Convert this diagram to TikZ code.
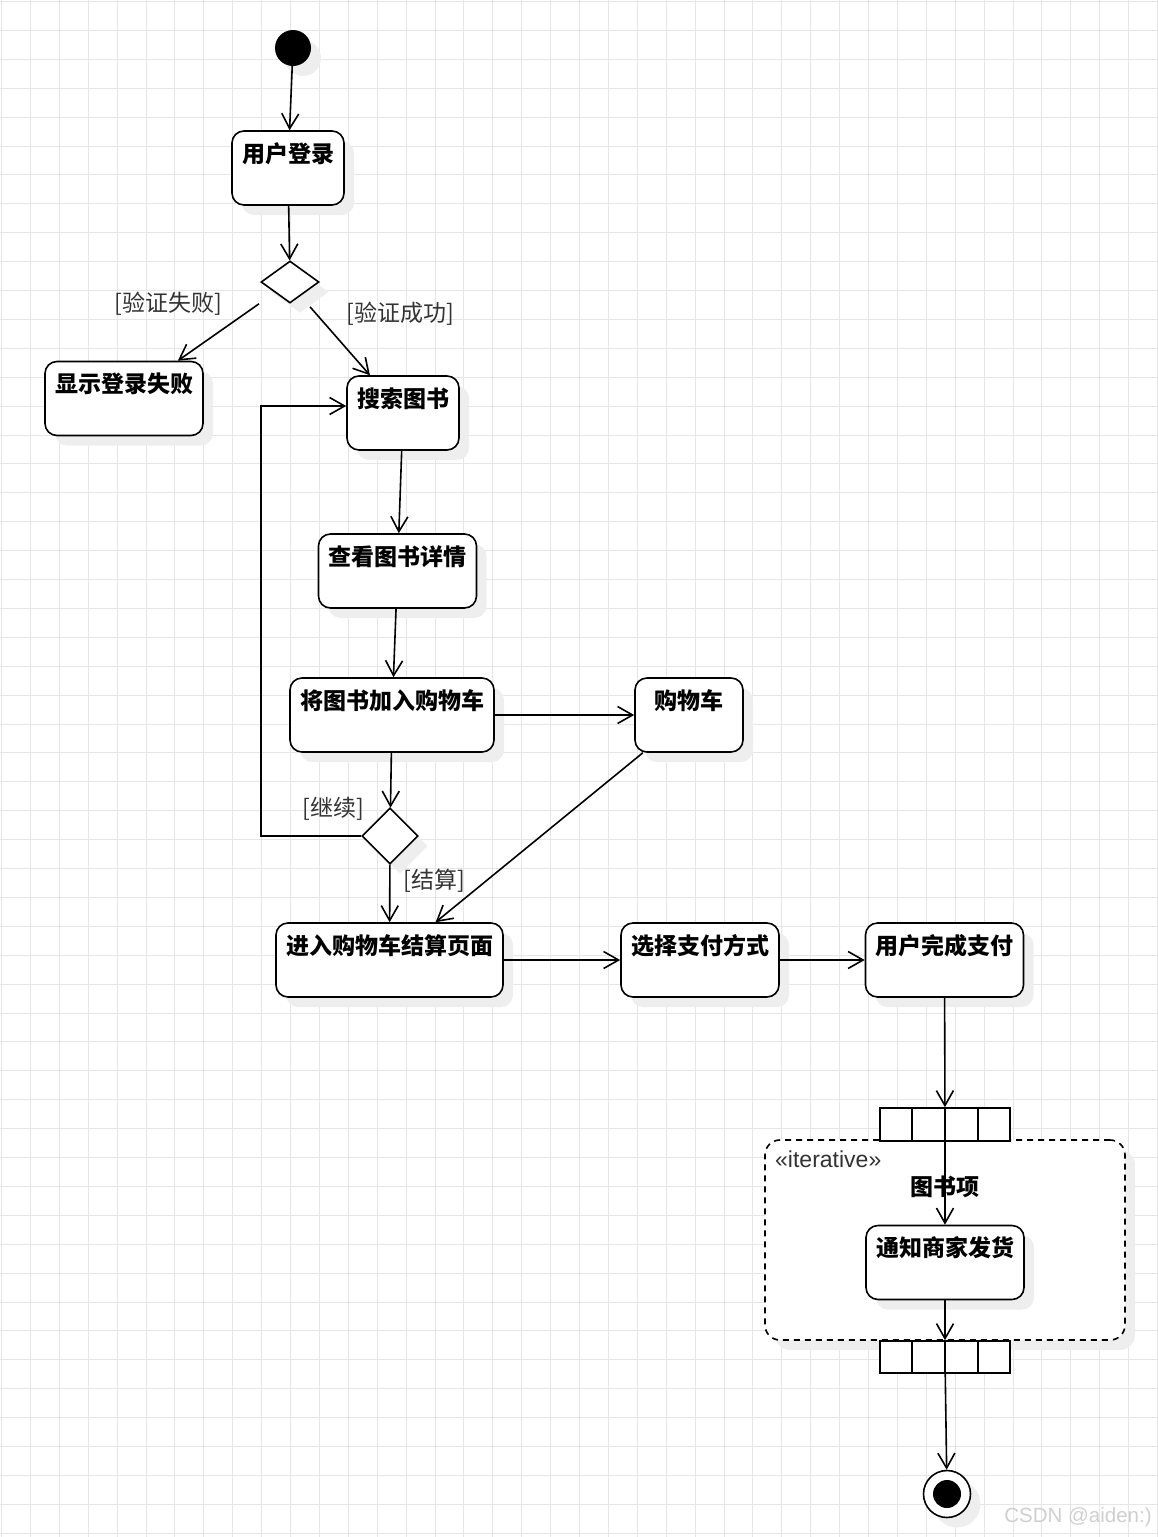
\documentclass[tikz,border=0pt]{standalone}
\usepackage{fontspec}
\setmainfont{Liberation Sans}
\newfontfamily\cjk{Noto Sans CJK SC}
\usetikzlibrary{shapes.geometric,arrows.meta,shadows,calc}

\definecolor{gridgray}{HTML}{E6E6E6}
\definecolor{shadowgray}{HTML}{EEEEEE}
\definecolor{guardgray}{HTML}{333333}
\definecolor{markgray}{HTML}{CFCFCF}

\tikzset{
	gridline/.style={draw=gridgray, line width=1pt},
	boxshadow/.style={drop shadow={shadow xshift=10pt, shadow yshift=-10pt, fill=shadowgray, opacity=1}},
	actbox/.style={rectangle, draw, line width=1.6pt, rounded corners=12pt, fill=white, boxshadow,
		font=\cjk\bfseries\fontsize{23}{28}\selectfont, inner xsep=10pt, inner ysep=7pt,
		text height=24pt, text depth=36pt},
	choice/.style={diamond, draw, line width=1.6pt, fill=white, boxshadow, inner sep=0pt},
	startdot/.style={circle, fill=black, minimum size=36pt, inner sep=0pt, boxshadow},
	enddot/.style={circle, draw, line width=1.6pt, fill=white, minimum size=47pt, inner sep=0pt, boxshadow},
	itembar/.style={rectangle, draw, line width=1.6pt, fill=white, minimum width=130pt, inner sep=0pt},
	iterzone/.style={rectangle, draw, line width=1.6pt, dash pattern=on 6pt off 5pt, rounded corners=15pt,
		fill=white, boxshadow, minimum width=360pt, minimum height=200pt},
	guardtxt/.style={font=\cjk\fontsize{23}{28}\selectfont, text=guardgray, inner sep=0pt},
	flow/.style={draw, line width=1.6pt, -{Straight Barb[length=15pt, width=17pt]}}
}

\begin{document}
\begin{tikzpicture}[x=1pt, y=-1pt]
	\useasboundingbox (0, 0) rectangle (1157, 1537);
	\foreach \k in {0,...,40}
		\draw [gridline] (1.5+28.9*\k, 0) -- (1.5+28.9*\k, 1537);
	\foreach \k in {0,...,53}
		\draw [gridline] (0, 1.5+28.9*\k) -- (1157, 1.5+28.9*\k);

	\path (945, 1240) node(iter) [iterzone] {};
	\path (775, 1159) node(iterlbl) [anchor=west, inner sep=0pt, text=guardgray, font=\fontsize{23}{28}\selectfont] {«iterative»};

	\path (293, 48) node(start) [startdot] {};
	\path (288, 168) node(login) [actbox] {用户登录};
	\path (290, 282) node(check) [choice, minimum width=58pt, minimum height=42pt] {};
	\path (124, 398.5) node(fail) [actbox] {显示登录失败};
	\path (403, 413) node(search) [actbox] {搜索图书};
	\path (397.5, 571) node(detail) [actbox] {查看图书详情};
	\path (392, 715) node(addcart) [actbox] {将图书加入购物车};
	\path (689, 715) node(cart) [actbox, minimum width=108pt] {购物车};
	\path (390, 836) node(more) [choice, minimum width=56pt, minimum height=56pt] {};
	\path (389.5, 960) node(checkout) [actbox] {进入购物车结算页面};
	\path (700, 960) node(paysel) [actbox] {选择支付方式};
	\path (944.5, 960) node(paydone) [actbox] {用户完成支付};
	\path (945, 1124.5) node(pinin) [itembar, minimum height=33pt] {};
	\path (945, 1357) node(pinout) [itembar, minimum height=32pt] {};
	\path (945, 1262.5) node(notify) [actbox] {通知商家发货};
	\path (947, 1494) node(finish) [enddot] {};
	\fill (finish.center) circle (14);

	\foreach \f in {0.25, 0.5, 0.75} {
		\draw [line width=1.6pt] ($(pinin.north west)!\f!(pinin.north east)$) -- ($(pinin.south west)!\f!(pinin.south east)$);
		\draw [line width=1.6pt] ($(pinout.north west)!\f!(pinout.north east)$) -- ($(pinout.south west)!\f!(pinout.south east)$);
	}

	\path (168, 304) node(gfail) [guardtxt] {[验证失败]};
	\path (400, 314) node(gok) [guardtxt] {[验证成功]};
	\path (333, 809) node(gmore) [guardtxt] {[继续]};
	\path (434, 881) node(gpay) [guardtxt] {[结算]};
	\path (945, 1187) node(items) [font=\cjk\bfseries\fontsize{23}{28}\selectfont, inner sep=0pt] {图书项};

	\coordinate (loopback) at (261, 406);
	\draw [flow] (start) to (login);
	\draw [flow] (login) to (check);
	\draw [flow] ([xshift=-31pt]check.south) to (fail);
	\draw [flow] ([xshift=20pt, yshift=-3pt]check.south) to (search);
	\draw [flow] (search) to (detail);
	\draw [flow] (detail) to (addcart);
	\draw [flow] (addcart) to (cart);
	\draw [flow] (addcart) to (more);
	\draw [flow] (more.west) -| (loopback) to (loopback -| search.west);
	\draw [flow] (more) to (checkout);
	\draw [flow] (cart) to (checkout);
	\draw [flow] (checkout) to (paysel);
	\draw [flow] (paysel) to (paydone);
	\draw [flow] (paydone) to (pinin);
	\draw [flow] (pinin) to (notify);
	\draw [flow] (notify) to (pinout);
	\draw [flow] (pinout) to (finish);

	\path (1078, 1517) node(mark) [text=markgray, font=\fontsize{20.5}{24}\selectfont, inner sep=0pt] {CSDN @aiden:)};
\end{tikzpicture}
\end{document}
